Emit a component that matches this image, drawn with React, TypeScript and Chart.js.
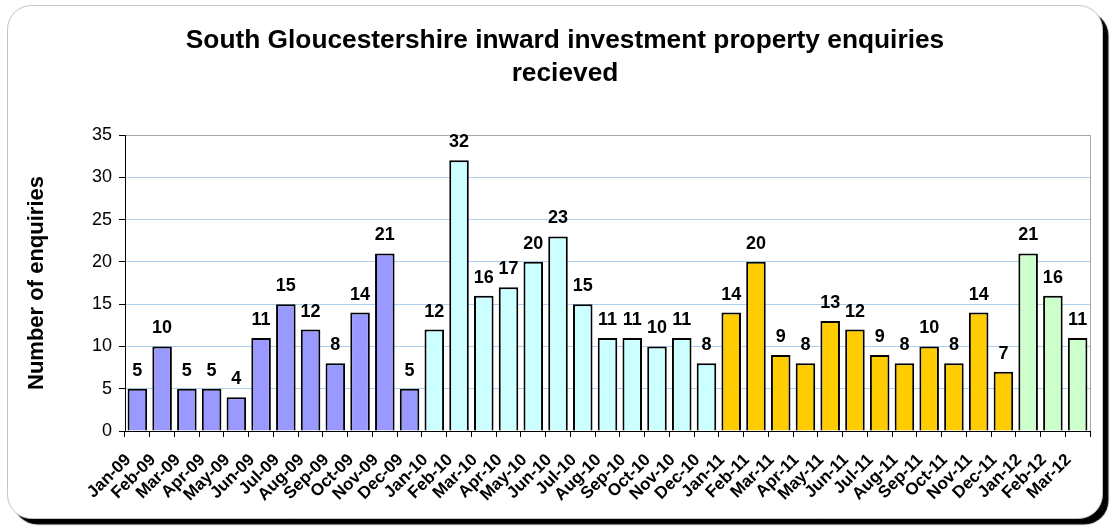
import React, { useEffect, useRef } from "react";
import { Chart, registerables } from "chart.js";

Chart.register(...registerables);

const FONT = "'Liberation Sans', Arial, sans-serif";

const titleLines = [
  "South Gloucestershire inward investment property enquiries",
  "recieved",
];
const yAxisTitle = "Number of enquiries";

const categories = [
  "Jan-09", "Feb-09", "Mar-09", "Apr-09", "May-09", "Jun-09", "Jul-09", "Aug-09", "Sep-09", "Oct-09", "Nov-09", "Dec-09",
  "Jan-10", "Feb-10", "Mar-10", "Apr-10", "May-10", "Jun-10", "Jul-10", "Aug-10", "Sep-10", "Oct-10", "Nov-10", "Dec-10",
  "Jan-11", "Feb-11", "Mar-11", "Apr-11", "May-11", "Jun-11", "Jul-11", "Aug-11", "Sep-11", "Oct-11", "Nov-11", "Dec-11",
  "Jan-12", "Feb-12", "Mar-12",
];

const enquiries = [
  5, 10, 5, 5, 4, 11, 15, 12, 8, 14, 21, 5,
  12, 32, 16, 17, 20, 23, 15, 11, 11, 10, 11, 8,
  14, 20, 9, 8, 13, 12, 9, 8, 10, 8, 14, 7,
  21, 16, 11,
];

const yearSuffixes = ["09", "10", "11", "12"];
const yearColors = ["#9999FF", "#CCFFFF", "#FFCC00", "#CCFFCC"];

const yMin = 0;
const yMax = 35;
const yStep = 5;

const barColors = categories.map((c) => yearColors[yearSuffixes.indexOf(c.slice(-2))]);

function roundRectPath(ctx: CanvasRenderingContext2D, x: number, y: number, w: number, h: number, r: number) {
  ctx.beginPath();
  ctx.moveTo(x + r, y);
  ctx.lineTo(x + w - r, y);
  ctx.arcTo(x + w, y, x + w, y + r, r);
  ctx.lineTo(x + w, y + h - r);
  ctx.arcTo(x + w, y + h, x + w - r, y + h, r);
  ctx.lineTo(x + r, y + h);
  ctx.arcTo(x, y + h, x, y + h - r, r);
  ctx.lineTo(x, y + r);
  ctx.arcTo(x, y, x + r, y, r);
  ctx.closePath();
}

const framePlugin = {
  id: "frame",
  beforeDraw(chart: any) {
    const ctx = chart.ctx as CanvasRenderingContext2D;
    ctx.save();
    ctx.fillStyle = "#ffffff";
    ctx.fillRect(0, 0, chart.width, chart.height);
    roundRectPath(ctx, 7.5, 5.5, 1095, 513, 24);
    ctx.shadowColor = "#000000";
    ctx.shadowOffsetX = 6;
    ctx.shadowOffsetY = 6;
    ctx.shadowBlur = 1;
    ctx.fillStyle = "#ffffff";
    ctx.fill();
    ctx.shadowColor = "rgba(0,0,0,0)";
    ctx.strokeStyle = "#C4C4C4";
    ctx.lineWidth = 1;
    ctx.stroke();
    ctx.restore();
  },
  afterDraw(chart: any) {
    const ctx = chart.ctx as CanvasRenderingContext2D;
    const a = chart.chartArea;
    ctx.save();
    ctx.strokeStyle = "#A8A8A8";
    ctx.lineWidth = 1;
    ctx.beginPath();
    ctx.moveTo(Math.round(a.right) + 0.5, a.top);
    ctx.lineTo(Math.round(a.right) + 0.5, a.bottom);
    ctx.stroke();
    // title
    ctx.fillStyle = "#000";
    ctx.font = `bold 26.3px ${FONT}`;
    ctx.textAlign = "center";
    ctx.textBaseline = "alphabetic";
    ctx.fillText(titleLines[0], 565, 48);
    ctx.fillText(titleLines[1], 565, 81);
    ctx.restore();
  },
  afterDatasetsDraw(chart: any) {
    const ctx = chart.ctx as CanvasRenderingContext2D;
    const meta = chart.getDatasetMeta(0);
    ctx.save();
    ctx.fillStyle = "#000";
    ctx.font = `bold 18px ${FONT}`;
    ctx.textAlign = "center";
    ctx.textBaseline = "alphabetic";
    meta.data.forEach((bar: any, i: number) => {
      ctx.fillText(String(enquiries[i]), bar.x, bar.y - 13);
    });
    ctx.restore();
  },
};

export default function App() {
  const ref = useRef<HTMLCanvasElement>(null);
  useEffect(() => {
    if (!ref.current) return;
    const chart = new Chart(ref.current, {
      type: "bar",
      data: {
        labels: categories,
        datasets: [
          {
            data: enquiries,
            backgroundColor: barColors,
            borderColor: "#000000",
            borderWidth: 2,
            barPercentage: 0.79,
            categoryPercentage: 1,
          },
        ],
      },
      options: {
        responsive: false,
        animation: false,
        devicePixelRatio: 1,
        layout: { padding: { top: 135, right: 25, left: 0, bottom: 0 } },
        plugins: {
          legend: { display: false },
          tooltip: { enabled: false },
          title: { display: false },
        },
        scales: {
          x: {
            grid: {
              drawOnChartArea: false,
              tickLength: 6,
              tickColor: "#000000",
              offset: true,
            },
            border: { color: "#000000", width: 1 },
            ticks: {
              minRotation: 45,
              maxRotation: 45,
              autoSkip: false,
              color: "#000000",
              padding: 13,
              labelOffset: -9,
              font: { family: FONT, size: 17, weight: "bold" },
            },
            afterFit: (s: any) => {
              s.height = 98;
            },
          },
          y: {
            min: yMin,
            max: yMax,
            ticks: {
              stepSize: yStep,
              color: "#000000",
              padding: 7,
              font: { family: FONT, size: 18 },
            },
            grid: {
              color: (c: any) => (c.tick && c.tick.value === yMax ? "#A8A8A8" : "#ADCFF2"),
              tickColor: "#000000",
              tickLength: 6,
            },
            border: { color: "#000000", width: 1 },
            title: {
              display: true,
              text: yAxisTitle,
              color: "#000000",
              font: { family: FONT, size: 22, weight: "bold" },
              padding: { top: 24, bottom: 0 },
            },
            afterFit: (s: any) => {
              s.width = 125;
            },
          },
        },
      },
      plugins: [framePlugin],
    } as any);
    return () => chart.destroy();
  }, []);
  return (
    <div style={{ position: "absolute", left: 0, top: 0, width: 1115, height: 529 }}>
      <canvas ref={ref} width={1115} height={529} style={{ display: "block" }} />
    </div>
  );
}
